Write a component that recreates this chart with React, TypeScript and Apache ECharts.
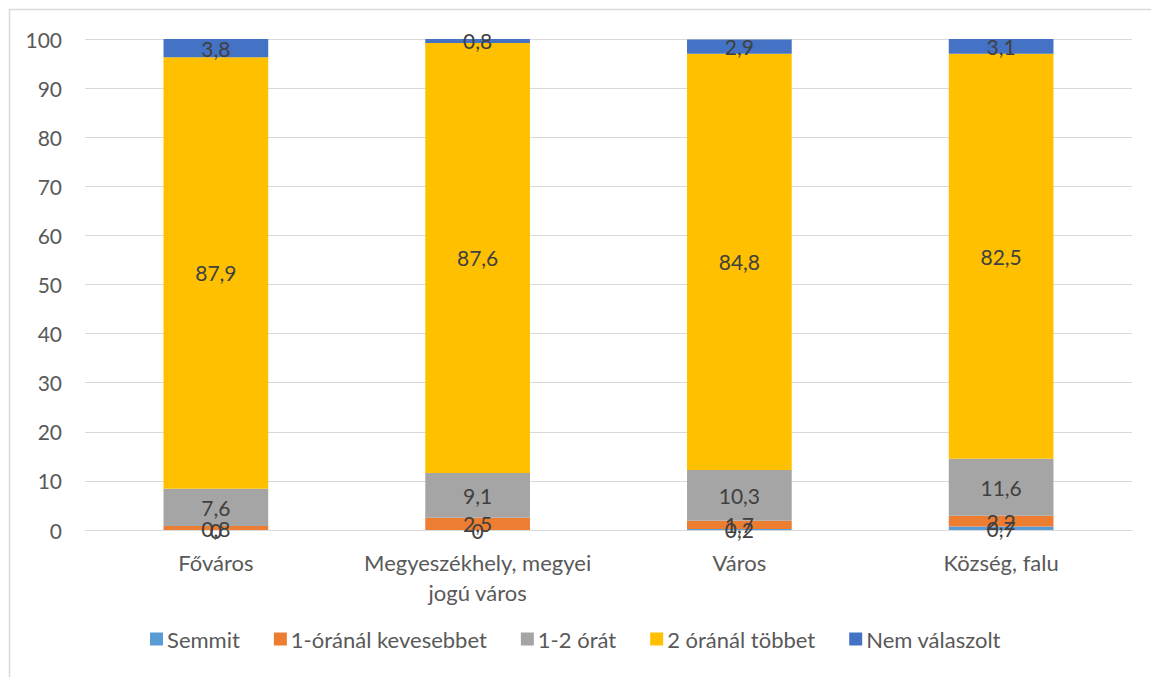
import React, { useEffect, useRef } from "react";
import * as echarts from "echarts";

const categories = ["Főváros", "Megyeszékhely, megyei\njogú város", "Város", "Község, falu"];
const seriesNames = ["Semmit", "1-óránál kevesebbet", "1-2 órát", "2 óránál többet", "Nem válaszolt"];
const semmit = [0, 0, 0.2, 0.7];
const kevesebb = [0.8, 2.5, 1.7, 2.2];
const egyKetto = [7.6, 9.1, 10.3, 11.6];
const tobbet = [87.9, 87.6, 84.8, 82.5];
const nemValaszolt = [3.8, 0.8, 2.9, 3.1];
const colors = ["#5B9BD5", "#ED7D31", "#A5A5A5", "#FFC000", "#4472C4"];

export default function App() {
  const ref = useRef<HTMLDivElement>(null);
  useEffect(() => {
    if (!ref.current) return;
    const chart = echarts.init(ref.current, null, { renderer: "svg" });
    const values = [semmit, kevesebb, egyKetto, tobbet, nemValaszolt];
    const font = "Lato, 'Open Sans', sans-serif";
    chart.setOption({
      animation: false,
      textStyle: { fontFamily: font },
      grid: { left: 85, right: 19, top: 39, bottom: 147, containLabel: false },
      legend: {
        bottom: 22,
        left: "center",
        itemWidth: 13,
        itemHeight: 13,
        itemGap: 34,
        itemStyle: { borderWidth: 0 },
        icon: "rect",
        textStyle: { fontSize: 22, color: "#595959", fontFamily: font, padding: [0, 0, 0, -1] },
        data: seriesNames,
      },
      xAxis: {
        type: "category",
        data: categories,
        axisLine: { lineStyle: { color: "#d9d9d9" } },
        axisTick: { show: false },
        axisLabel: { interval: 0, fontSize: 22, color: "#595959", margin: 17, lineHeight: 30, fontFamily: font },
      },
      yAxis: {
        type: "value",
        min: 0,
        max: 100,
        interval: 10,
        axisLine: { show: false },
        axisTick: { show: false },
        splitLine: { lineStyle: { color: "#d9d9d9", width: 1 } },
        axisLabel: { fontSize: 21, color: "#595959", margin: 23, fontFamily: font },
      },
      graphic: [
        { type: "line", shape: { x1: 9, y1: 9.5, x2: 1151, y2: 9.5 }, style: { stroke: "#d9d9d9", lineWidth: 1.5 } },
        { type: "line", shape: { x1: 9.5, y1: 9, x2: 9.5, y2: 677 }, style: { stroke: "#d9d9d9", lineWidth: 1.5 } },
      ],
      series: seriesNames.map((name, i) => ({
        name,
        type: "bar",
        stack: "total",
        barWidth: "40%",
        data: values[i],
        itemStyle: { color: colors[i] },
        label: {
          show: true,
          position: "inside",
          fontSize: 21,
          color: "#404040",
          fontFamily: font,
          formatter: (p: any) => String(p.value).replace(".", ","),
        },
      })),
    });
    return () => chart.dispose();
  }, []);
  return (
    <div
      ref={ref}
      style={{ position: "fixed", left: 0, top: 0, width: 1151, height: 677, background: "#fff" }}
    />
  );
}
